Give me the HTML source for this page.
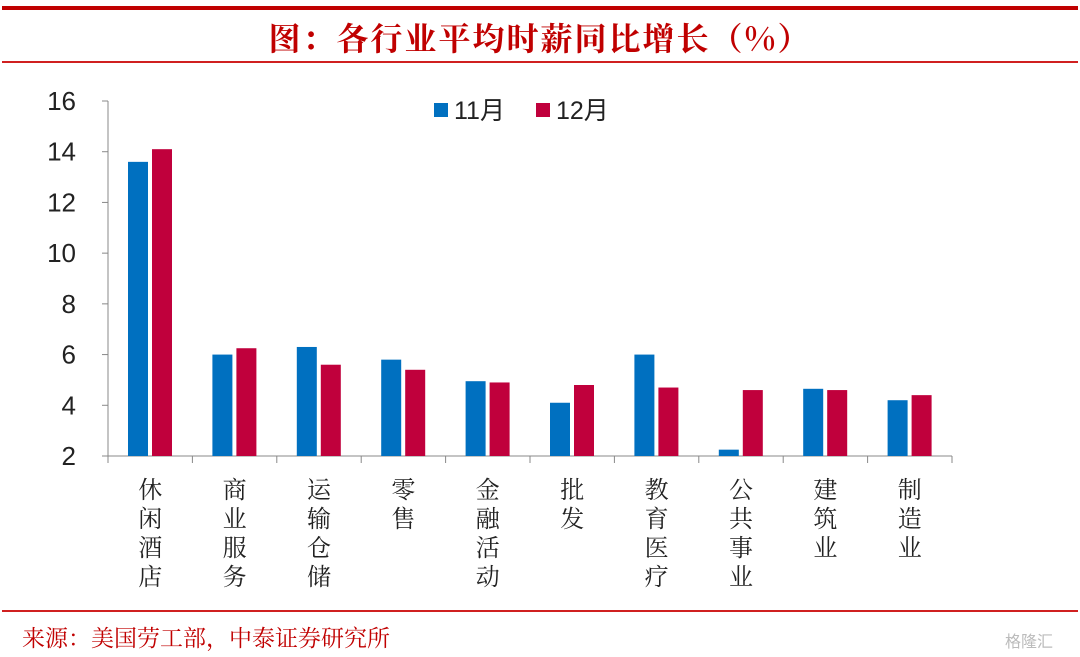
<!DOCTYPE html>
<html><head><meta charset="utf-8"><style>
body{margin:0;background:#fff;width:1080px;height:657px;overflow:hidden;position:relative;font-family:"Liberation Sans","Noto Sans CJK SC",sans-serif}
.abs{position:absolute}
</style></head><body>
<div class="abs" style="left:2px;top:6px;width:1076px;height:4px;background:#c00000"></div>
<div class="abs" style="left:0;top:14px;width:1080px;text-align:center;font:bold 32px 'Noto Serif CJK SC','Liberation Serif',serif;color:#c00000;letter-spacing:2px">图：各行业平均时薪同比增长（%）</div>
<div class="abs" style="left:2px;top:61px;width:1076px;height:2px;background:#d02020"></div>
<div class="abs" style="left:2px;top:610px;width:1076px;height:2px;background:#d02020"></div>
<div class="abs" style="left:22px;top:620px;font:23px 'Noto Serif CJK SC','Liberation Serif',serif;color:#c00000">来源：美国劳工部，中泰证券研究所</div>
<div class="abs" style="left:1005px;top:628px;font:16px 'Noto Sans CJK SC',sans-serif;color:#bbb">格隆汇</div>
<svg class="abs" style="left:0;top:0" width="1080" height="657" id="chart"></svg>
<script>
const categories=["休闲酒店","商业服务","运输仓储","零售","金融活动","批发","教育医疗","公共事业","建筑业","制造业"];
const nov=[13.6,6.0,6.3,5.8,4.95,4.1,6.0,2.25,4.65,4.2];
const dec=[14.1,6.25,5.6,5.4,4.9,4.8,4.7,4.6,4.6,4.4];
const yTicks=[2,4,6,8,10,12,14,16];
const ns="http://www.w3.org/2000/svg";
const svg=document.getElementById('chart');
const x0=108,x1=952,yBase=456,yTop=101,ymin=2,ymax=16;
const y=v=>yBase-(v-ymin)/(ymax-ymin)*(yBase-yTop);
const band=(x1-x0)/categories.length;
function mk(t,a){const e=document.createElementNS(ns,t);for(const k in a)e.setAttribute(k,a[k]);svg.appendChild(e);return e;}
let ax=mk('line',{x1:x0,y1:yTop,x2:x0,y2:yBase,stroke:'#888','stroke-width':1});

let bx=mk('line',{x1:x0,y1:yBase,x2:x1,y2:yBase,stroke:'#888','stroke-width':1});

yTicks.forEach(v=>{
 let l=mk('line',{x1:x0-6,y1:y(v),x2:x0,y2:y(v),stroke:'#888'});
 
 let t=mk('text',{x:x0-32,y:y(v)+9,'text-anchor':'end','font-size':26,fill:'#222','font-family':'Liberation Sans'});
 t.textContent=v;
});
for(let i=0;i<=categories.length;i++){
 let l=mk('line',{x1:x0+i*band,y1:yBase,x2:x0+i*band,y2:yBase+7,stroke:'#888'});
 
}
categories.forEach((c,i)=>{
 const bx0=x0+i*band;
 let r1=mk('rect',{x:bx0+20,y:y(nov[i]),width:20,height:yBase-y(nov[i]),fill:'#0070c0'});
 
 let r2=mk('rect',{x:bx0+44,y:y(dec[i]),width:20,height:yBase-y(dec[i]),fill:'#c0003c'});
 
 [...c].forEach((ch,j)=>{
  let t=mk('text',{x:bx0+band/2,y:yBase+42+j*29,'text-anchor':'middle','font-size':24,fill:'#222','font-family':'Noto Serif CJK SC, serif'});
  t.textContent=ch;
 });
});
[[434,'#0070c0','11月'],[536,'#c0003c','12月']].forEach(([lx,col,lab])=>{
 let r=mk('rect',{x:lx,y:103,width:14,height:14,fill:col});
 
 let t=mk('text',{x:lx+20,y:119,'font-size':25,fill:'#222','font-family':'Liberation Sans, Noto Sans CJK SC, sans-serif'});
 t.textContent=lab;
});
</script>
</body></html>
